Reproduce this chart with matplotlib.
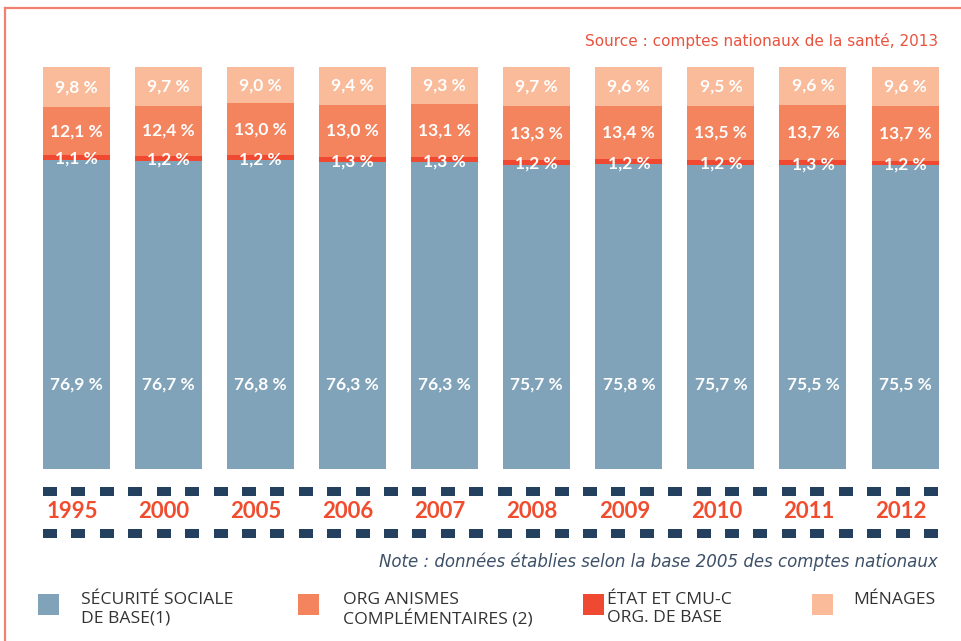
import numpy as np
import matplotlib.pyplot as plt
from matplotlib.patches import Rectangle

annees = ['1995', '2000', '2005', '2006', '2007', '2008', '2009', '2010', '2011', '2012']
secu = [76.9, 76.7, 76.8, 76.3, 76.3, 75.7, 75.8, 75.7, 75.5, 75.5]
etat = [1.1, 1.2, 1.2, 1.3, 1.3, 1.2, 1.2, 1.2, 1.3, 1.2]
org = [12.1, 12.4, 13.0, 13.0, 13.1, 13.3, 13.4, 13.5, 13.7, 13.7]
menages = [9.8, 9.7, 9.0, 9.4, 9.3, 9.7, 9.6, 9.5, 9.6, 9.6]

noms = ['SÉCURITÉ SOCIALE\nDE BASE(1)', 'ORG ANISMES\nCOMPLÉMENTAIRES (2)',
        'ÉTAT ET CMU-C\nORG. DE BASE', 'MÉNAGES']
couleurs = ['#80a3b9', '#f4845e', '#ef4a31', '#f9bb9a']

W, H = 961, 641
fig = plt.figure(figsize=(W / 100, H / 100), dpi=100)
ax = fig.add_axes([0, 0, 1, 1])

# échelle : barre i centrée à 76.5 + 92.06*i px, zéro à 469 px du haut, 4.02 px par point
pas, px_pt = 92.06, 4.02
ax.set_xlim(-76.5 / pas, (W - 76.5) / pas)
ax.set_ylim(-(H - 469) / px_pt, 469 / px_pt)
ax.axis('off')

x = np.arange(len(annees))
secu = np.array(secu); etat = np.array(etat); org = np.array(org); menages = np.array(menages)
larg = 67 / pas
ax.bar(x, secu, larg, color=couleurs[0])
ax.bar(x, etat, larg, bottom=secu, color=couleurs[2])
ax.bar(x, org, larg, bottom=secu + etat, color=couleurs[1])
ax.bar(x, menages, larg, bottom=secu + etat + org, color=couleurs[3])

def fmt(v):
    return f'{v:.1f}'.replace('.', ',') + ' %'

lab = dict(color='white', fontsize=12.5, fontweight='bold', family='Lato',
           ha='center', va='center')
for i in x:
    ax.text(i, 21.0, fmt(secu[i]), **lab)
    ax.text(i, secu[i] + 0.3, fmt(etat[i]), **lab)
    ax.text(i, secu[i] + etat[i] + org[i] / 2, fmt(org[i]), **lab)
    ax.text(i, secu[i] + etat[i] + org[i] + menages[i] / 2, fmt(menages[i]), **lab)

# repères en pixels (origine en haut à gauche)
def px(xp, yp):
    return xp / W, 1 - yp / H

navy = '#23415f'
for y0 in (487, 529):
    for xs in np.linspace(43, 924, 32):
        fig.add_artist(Rectangle(px(xs, y0 + 9), 14 / W, 9 / H,
                                 transform=fig.transFigure, color=navy, lw=0))

for i, a in enumerate(annees):
    ax.text(i - 0.05, -(512 - 469) / px_pt, a, color='#f04c2e', fontsize=16,
            fontweight='bold', family='Lato', ha='center', va='center')

# cadre
cadre = '#f08070'
fig.add_artist(plt.Line2D([5 / W, 1], [1 - 8 / H] * 2, color=cadre, lw=1.6,
                          transform=fig.transFigure))
fig.add_artist(plt.Line2D([5 / W] * 2, [0, 1 - 8 / H], color=cadre, lw=1.6,
                          transform=fig.transFigure))

fig.text(*px(938, 41), 'Source : comptes nationaux de la santé, 2013',
         color='#e8533f', fontsize=11, family='DejaVu Sans',
         ha='right', va='center')
fig.text(*px(938, 562), 'Note : données établies selon la base 2005 des comptes nationaux',
         color='#3d5068', fontsize=12, style='italic',
         family='DejaVu Sans', ha='right', va='center')

# légende
carres = [38, 298, 583, 812]
textes = [81, 343, 607, 853]
for c, xt, nom, col in zip(carres, textes, noms, couleurs):
    fig.add_artist(Rectangle(px(c, 615), 21 / W, 21 / H, transform=fig.transFigure,
                             color=col, lw=0))
    fig.text(*px(xt, 592), nom, color='#333333', fontsize=12.6, family='Open Sans',
             ha='left', va='top', linespacing=1.2)

fig.savefig('out.png', dpi=100)
